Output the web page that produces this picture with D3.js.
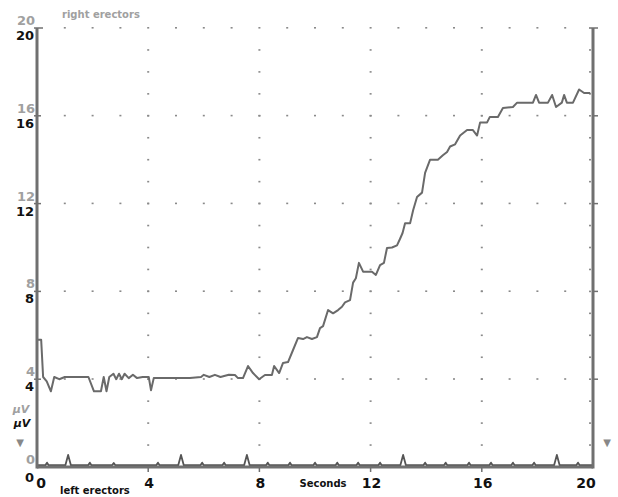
<!DOCTYPE html>
<html>
<head>
<meta charset="utf-8">
<script src="https://cdn.jsdelivr.net/npm/d3@7/dist/d3.min.js"></script>
<style>
  body { margin: 0; background: #fff; }
  svg { display: block; }
</style>
</head>
<body>
<div id="chart"></div>
<script>
// right erectors trace, [seconds, microvolts]
var rightErectors = [
  [0, 5.8], [0.15, 5.8], [0.22, 4.1], [0.35, 3.9], [0.5, 3.45], [0.62, 4.1], [0.8, 4.0], [1.0, 4.1],
  [1.5, 4.1], [1.85, 4.1], [2.05, 3.45], [2.3, 3.45], [2.4, 4.1], [2.5, 3.45], [2.6, 4.1],
  [2.75, 4.25], [2.85, 4.0], [2.95, 4.25], [3.05, 4.0], [3.15, 4.25], [3.3, 4.05], [3.45, 4.2],
  [3.6, 4.05], [3.8, 4.1], [4.02, 4.1], [4.1, 3.5], [4.2, 4.05], [4.5, 4.05], [5.0, 4.05],
  [5.5, 4.05], [5.9, 4.1], [6.0, 4.2], [6.2, 4.1], [6.4, 4.2], [6.6, 4.1], [6.9, 4.2],
  [7.12, 4.19], [7.23, 4.05], [7.41, 4.05], [7.59, 4.6], [7.77, 4.28], [7.99, 4.0], [8.2, 4.19],
  [8.45, 4.19], [8.53, 4.6], [8.71, 4.28], [8.85, 4.74], [9.03, 4.78], [9.21, 5.33], [9.39, 5.88],
  [9.57, 5.83], [9.71, 5.92], [9.89, 5.83], [10.07, 5.92], [10.18, 6.33], [10.29, 6.42],
  [10.47, 7.15], [10.65, 7.0], [10.83, 7.15], [10.97, 7.3], [11.08, 7.5], [11.26, 7.6],
  [11.37, 8.4], [11.47, 8.6], [11.58, 9.3], [11.73, 8.9], [12.05, 8.9], [12.19, 8.75],
  [12.34, 9.2], [12.48, 9.3], [12.59, 9.98], [12.77, 10.0], [12.95, 10.1], [13.06, 10.4],
  [13.15, 10.66], [13.24, 11.1], [13.42, 11.1], [13.53, 11.7], [13.67, 12.3], [13.85, 12.5],
  [13.96, 13.4], [14.14, 14.0], [14.42, 14.0], [14.6, 14.2], [14.75, 14.35], [14.86, 14.6],
  [15.04, 14.7], [15.22, 15.1], [15.47, 15.35], [15.68, 15.35], [15.83, 15.1], [15.94, 15.7],
  [16.19, 15.7], [16.29, 15.95], [16.58, 15.95], [16.76, 16.35], [17.12, 16.4], [17.27, 16.6],
  [17.84, 16.6], [17.95, 16.95], [18.06, 16.6], [18.38, 16.6], [18.53, 16.95], [18.67, 16.4],
  [18.88, 16.6], [18.96, 16.95], [19.06, 16.6], [19.28, 16.6], [19.5, 17.2], [19.68, 17.04],
  [19.9, 17.04]
];

// left erectors trace, [seconds, microvolts]
var leftErectors = [
  [0, 0.08], [0.3, 0.08], [0.36, 0.2], [0.42, 0.08], [1.02, 0.08], [1.12, 0.55], [1.22, 0.08],
  [1.84, 0.08], [1.9, 0.2], [1.96, 0.08], [2.7, 0.08], [2.76, 0.18], [2.82, 0.08],
  [4.29, 0.08], [4.35, 0.2], [4.41, 0.08], [5.08, 0.08], [5.18, 0.55], [5.28, 0.08],
  [5.88, 0.08], [5.94, 0.2], [6.0, 0.08], [6.67, 0.08], [6.73, 0.2], [6.79, 0.08],
  [7.45, 0.08], [7.55, 0.55], [7.65, 0.08], [8.24, 0.08], [8.3, 0.2], [8.36, 0.08],
  [9.04, 0.08], [9.1, 0.2], [9.16, 0.08], [9.94, 0.08], [10.0, 0.2], [10.06, 0.08],
  [10.74, 0.08], [10.8, 0.2], [10.86, 0.08], [11.49, 0.08], [11.55, 0.2], [11.61, 0.08],
  [12.28, 0.08], [12.34, 0.2], [12.4, 0.08], [13.07, 0.08], [13.17, 0.55], [13.27, 0.08],
  [13.9, 0.08], [13.96, 0.2], [14.02, 0.08], [14.64, 0.08], [14.7, 0.2], [14.76, 0.08],
  [15.48, 0.08], [15.54, 0.2], [15.6, 0.08], [16.27, 0.08], [16.33, 0.2], [16.39, 0.08],
  [17.06, 0.08], [17.12, 0.2], [17.18, 0.08], [17.82, 0.08], [17.88, 0.2], [17.94, 0.08],
  [18.6, 0.08], [18.7, 0.55], [18.8, 0.08], [19.4, 0.08], [19.46, 0.2], [19.52, 0.08],
  [20, 0.08]
];

var xTicks = [0, 4, 8, 12, 16, 20];
var yTicks = [0, 4, 8, 12, 16, 20];
var gridSeconds = d3.range(1, 20);
var gridMicrovolts = d3.range(1, 20);

var width = 618, height = 497;
var x = d3.scaleLinear().domain([0, 20]).range([37, 593]);
var y = d3.scaleLinear().domain([0, 20]).range([467, 28]);

var svg = d3.select('#chart').append('svg')
  .attr('width', width)
  .attr('height', height);

var axisGray = '#707070', labelGray = '#a0a0a0', dotGray = '#8a8a8a';
var font = 'DejaVu Sans, sans-serif';

// dotted grid: rows at every 4 uV with a dot each second
var grid = svg.append('g');
yTicks.filter(function(v){ return v > 0; }).forEach(function(v){
  grid.selectAll(null).data(gridSeconds).enter().append('rect')
    .attr('x', function(d){ return x(d) - 1; })
    .attr('y', y(v) - 1)
    .attr('width', 2).attr('height', 1.6)
    .attr('fill', dotGray);
});
// columns at every 4 s with a dot each uV
xTicks.filter(function(t){ return t > 0; }).forEach(function(t){
  grid.selectAll(null).data(gridMicrovolts).enter().append('rect')
    .attr('x', t === 20 ? x(t) - 4 : x(t) - 1)
    .attr('y', function(d){ return y(d) - 0.8; })
    .attr('width', 2).attr('height', 1.6)
    .attr('fill', dotGray);
});

// traces
var line = d3.line()
  .x(function(d){ return x(d[0]); })
  .y(function(d){ return y(d[1]); });

svg.append('path')
  .datum(leftErectors)
  .attr('d', line)
  .attr('fill', 'none')
  .attr('stroke', '#555')
  .attr('stroke-width', 1.8)
  .attr('stroke-linejoin', 'round');

svg.append('path')
  .datum(rightErectors)
  .attr('d', line)
  .attr('fill', 'none')
  .attr('stroke', '#6a6a6a')
  .attr('stroke-width', 2)
  .attr('stroke-linejoin', 'round');

// frame: left, right and bottom axis lines
var frame = svg.append('g').attr('stroke', axisGray).attr('stroke-width', 3);
frame.append('line').attr('x1', x(0)).attr('x2', x(0)).attr('y1', y(20)).attr('y2', y(0) + 1.5);
frame.append('line').attr('x1', x(20)).attr('x2', x(20)).attr('y1', y(20)).attr('y2', y(0) + 1.5);
frame.append('line').attr('x1', x(0)).attr('x2', x(20)).attr('y1', y(0)).attr('y2', y(0));

// left ticks, right ticks and caps
var ticks = svg.append('g').attr('stroke', axisGray).attr('stroke-width', 1.5);
yTicks.filter(function(v){ return v > 0; }).forEach(function(v){
  ticks.append('line').attr('x1', x(0) - 3).attr('x2', x(0) + (v === 20 ? 6 : 4)).attr('y1', y(v)).attr('y2', y(v));
  ticks.append('line').attr('x1', x(20) - (v === 20 ? 4 : 0)).attr('x2', x(20) + 5).attr('y1', y(v)).attr('y2', y(v));
});
xTicks.filter(function(t){ return t > 0 && t < 20; }).forEach(function(t){
  ticks.append('line').attr('x1', x(t)).attr('x2', x(t)).attr('y1', y(0)).attr('y2', y(0) + 5);
});

// left axis labels: grey (right erectors) above, black (left erectors) below
var labels = svg.append('g').attr('font-family', font).attr('font-size', 13).attr('font-weight', 'bold');
labels.selectAll('.gl').data(yTicks).enter().append('text')
  .attr('x', 35).attr('y', function(d){ return y(d) - 3; })
  .attr('text-anchor', 'end').attr('fill', labelGray)
  .text(function(d){ return d; });
labels.selectAll('.bl').data(yTicks).enter().append('text')
  .attr('x', 34).attr('y', function(d){ return y(d) + (d === 0 ? 15 : 12); })
  .attr('text-anchor', 'end').attr('fill', '#111')
  .text(function(d){ return d; });

// x axis labels
labels.selectAll('.xl').data(xTicks).enter().append('text')
  .attr('x', function(d){ return d === 0 ? x(d) + 4 : d === 20 ? x(d) - 7 : x(d) + 1; })
  .attr('y', 488)
  .attr('font-size', 14)
  .attr('text-anchor', 'middle').attr('fill', '#111')
  .text(function(d){ return d; });

// units and markers
var small = svg.append('g').attr('font-family', font).attr('font-weight', 'bold');
small.append('text').attr('x', 21).attr('y', 413).attr('text-anchor', 'middle')
  .attr('font-size', 11).attr('font-style', 'italic').attr('fill', labelGray).text('µV');
small.append('text').attr('x', 22).attr('y', 427).attr('text-anchor', 'middle')
  .attr('font-size', 11).attr('font-style', 'italic').attr('fill', '#111').text('µV');
small.append('text').attr('x', 20).attr('y', 446).attr('text-anchor', 'middle')
  .attr('font-size', 10).attr('fill', '#888').text('▼');
small.append('text').attr('x', 607).attr('y', 446).attr('text-anchor', 'middle')
  .attr('font-size', 10).attr('fill', '#888').text('▼');

small.append('text').attr('x', 62).attr('y', 18)
  .attr('font-size', 10).attr('fill', labelGray).text('right erectors');
small.append('text').attr('x', 60).attr('y', 494)
  .attr('font-size', 10).attr('fill', '#111').text('left erectors');
small.append('text').attr('x', 323).attr('y', 487).attr('text-anchor', 'middle')
  .attr('font-size', 10).attr('fill', '#111').text('Seconds');
</script>
</body>
</html>
